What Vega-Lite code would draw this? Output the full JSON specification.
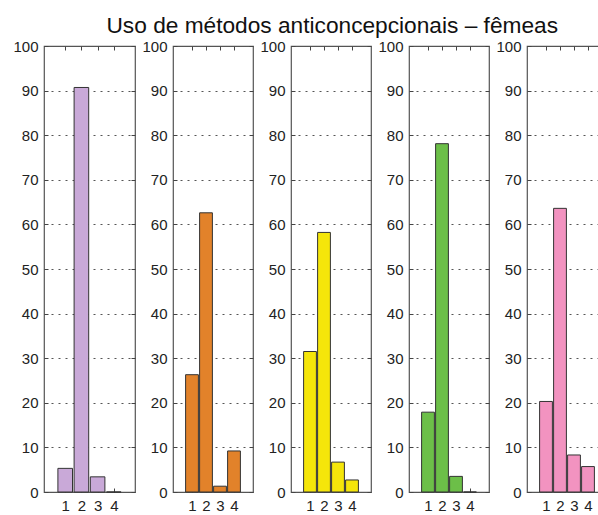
{
  "$schema": "https://vega.github.io/schema/vega-lite/v6.json",
  "padding": {"left": 12, "top": 14, "right": 0, "bottom": 0},
  "title": {
    "text": "Uso de métodos anticoncepcionais – fêmeas",
    "font": "Liberation Sans",
    "fontSize": 22.7,
    "fontWeight": "normal",
    "color": "#111111",
    "anchor": "middle",
    "offset": 1,
    "dx": 22
  },
  "datasets": {
    "uso": [
      {"painel": 1, "metodo": 1, "percentagem": 5.3},
      {"painel": 1, "metodo": 2, "percentagem": 90.7},
      {"painel": 1, "metodo": 3, "percentagem": 3.4},
      {"painel": 1, "metodo": 4, "percentagem": 0},
      {"painel": 2, "metodo": 1, "percentagem": 26.3},
      {"painel": 2, "metodo": 2, "percentagem": 62.6},
      {"painel": 2, "metodo": 3, "percentagem": 1.3},
      {"painel": 2, "metodo": 4, "percentagem": 9.2},
      {"painel": 3, "metodo": 1, "percentagem": 31.5},
      {"painel": 3, "metodo": 2, "percentagem": 58.2},
      {"painel": 3, "metodo": 3, "percentagem": 6.7},
      {"painel": 3, "metodo": 4, "percentagem": 2.7},
      {"painel": 4, "metodo": 1, "percentagem": 17.9},
      {"painel": 4, "metodo": 2, "percentagem": 78.1},
      {"painel": 4, "metodo": 3, "percentagem": 3.5},
      {"painel": 4, "metodo": 4, "percentagem": 0},
      {"painel": 5, "metodo": 1, "percentagem": 20.3},
      {"painel": 5, "metodo": 2, "percentagem": 63.6},
      {"painel": 5, "metodo": 3, "percentagem": 8.3},
      {"painel": 5, "metodo": 4, "percentagem": 5.7}
    ]
  },
  "bounds": "flush",
  "spacing": 38,
  "hconcat": [
    {
      "width": 91, "height": 446,
      "data": {"name": "uso"},
      "transform": [{"filter": "datum.painel == 1"}],
      "layer": [
        {
          "mark": {"type": "bar", "orient": "vertical", "size": 14.6, "color": "#c9a9d8", "stroke": "#333333", "strokeWidth": 1},
          "encoding": {
            "x": {"field": "metodo", "type": "quantitative", "title": null, "scale": {"domain": [0, 5], "nice": false, "zero": false}, "axis": {"orient": "bottom", "values": [1, 2, 3, 4], "grid": false}},
            "y": {"field": "percentagem", "type": "quantitative", "title": null, "stack": null, "scale": {"domain": [0, 100], "nice": false}, "axis": {"orient": "left", "values": [0, 10, 20, 30, 40, 50, 60, 70, 80, 90, 100], "grid": true}}
          }
        },
        {
          "mark": {"type": "bar", "orient": "vertical", "size": 14.6, "opacity": 0},
          "encoding": {
            "x": {"field": "metodo", "type": "quantitative", "title": null, "axis": {"orient": "top", "values": [1, 2, 3, 4], "labels": false, "grid": false}},
            "y": {"field": "percentagem", "type": "quantitative", "title": null, "stack": null, "axis": {"orient": "right", "values": [0, 10, 20, 30, 40, 50, 60, 70, 80, 90, 100], "labels": false, "grid": false}}
          }
        }
      ]
    },
    {
      "width": 80, "height": 446,
      "data": {"name": "uso"},
      "transform": [{"filter": "datum.painel == 2"}],
      "layer": [
        {
          "mark": {"type": "bar", "orient": "vertical", "size": 12.8, "color": "#e2822a", "stroke": "#333333", "strokeWidth": 1},
          "encoding": {
            "x": {"field": "metodo", "type": "quantitative", "title": null, "scale": {"domain": [0, 5], "nice": false, "zero": false}, "axis": {"orient": "bottom", "values": [1, 2, 3, 4], "grid": false}},
            "y": {"field": "percentagem", "type": "quantitative", "title": null, "stack": null, "scale": {"domain": [0, 100], "nice": false}, "axis": {"orient": "left", "values": [0, 10, 20, 30, 40, 50, 60, 70, 80, 90, 100], "grid": true}}
          }
        },
        {
          "mark": {"type": "bar", "orient": "vertical", "size": 12.8, "opacity": 0},
          "encoding": {
            "x": {"field": "metodo", "type": "quantitative", "title": null, "axis": {"orient": "top", "values": [1, 2, 3, 4], "labels": false, "grid": false}},
            "y": {"field": "percentagem", "type": "quantitative", "title": null, "stack": null, "axis": {"orient": "right", "values": [0, 10, 20, 30, 40, 50, 60, 70, 80, 90, 100], "labels": false, "grid": false}}
          }
        }
      ]
    },
    {
      "width": 80, "height": 446,
      "data": {"name": "uso"},
      "transform": [{"filter": "datum.painel == 3"}],
      "layer": [
        {
          "mark": {"type": "bar", "orient": "vertical", "size": 12.8, "color": "#f5e60a", "stroke": "#333333", "strokeWidth": 1},
          "encoding": {
            "x": {"field": "metodo", "type": "quantitative", "title": null, "scale": {"domain": [0, 5], "nice": false, "zero": false}, "axis": {"orient": "bottom", "values": [1, 2, 3, 4], "grid": false}},
            "y": {"field": "percentagem", "type": "quantitative", "title": null, "stack": null, "scale": {"domain": [0, 100], "nice": false}, "axis": {"orient": "left", "values": [0, 10, 20, 30, 40, 50, 60, 70, 80, 90, 100], "grid": true}}
          }
        },
        {
          "mark": {"type": "bar", "orient": "vertical", "size": 12.8, "opacity": 0},
          "encoding": {
            "x": {"field": "metodo", "type": "quantitative", "title": null, "axis": {"orient": "top", "values": [1, 2, 3, 4], "labels": false, "grid": false}},
            "y": {"field": "percentagem", "type": "quantitative", "title": null, "stack": null, "axis": {"orient": "right", "values": [0, 10, 20, 30, 40, 50, 60, 70, 80, 90, 100], "labels": false, "grid": false}}
          }
        }
      ]
    },
    {
      "width": 80, "height": 446,
      "data": {"name": "uso"},
      "transform": [{"filter": "datum.painel == 4"}],
      "layer": [
        {
          "mark": {"type": "bar", "orient": "vertical", "size": 12.8, "color": "#6cbf48", "stroke": "#333333", "strokeWidth": 1},
          "encoding": {
            "x": {"field": "metodo", "type": "quantitative", "title": null, "scale": {"domain": [0, 5], "nice": false, "zero": false}, "axis": {"orient": "bottom", "values": [1, 2, 3, 4], "grid": false}},
            "y": {"field": "percentagem", "type": "quantitative", "title": null, "stack": null, "scale": {"domain": [0, 100], "nice": false}, "axis": {"orient": "left", "values": [0, 10, 20, 30, 40, 50, 60, 70, 80, 90, 100], "grid": true}}
          }
        },
        {
          "mark": {"type": "bar", "orient": "vertical", "size": 12.8, "opacity": 0},
          "encoding": {
            "x": {"field": "metodo", "type": "quantitative", "title": null, "axis": {"orient": "top", "values": [1, 2, 3, 4], "labels": false, "grid": false}},
            "y": {"field": "percentagem", "type": "quantitative", "title": null, "stack": null, "axis": {"orient": "right", "values": [0, 10, 20, 30, 40, 50, 60, 70, 80, 90, 100], "labels": false, "grid": false}}
          }
        }
      ]
    },
    {
      "width": 80, "height": 446,
      "data": {"name": "uso"},
      "transform": [{"filter": "datum.painel == 5"}],
      "layer": [
        {
          "mark": {"type": "bar", "orient": "vertical", "size": 12.8, "color": "#f293c0", "stroke": "#333333", "strokeWidth": 1},
          "encoding": {
            "x": {"field": "metodo", "type": "quantitative", "title": null, "scale": {"domain": [0, 5], "nice": false, "zero": false}, "axis": {"orient": "bottom", "values": [1, 2, 3, 4], "grid": false}},
            "y": {"field": "percentagem", "type": "quantitative", "title": null, "stack": null, "scale": {"domain": [0, 100], "nice": false}, "axis": {"orient": "left", "values": [0, 10, 20, 30, 40, 50, 60, 70, 80, 90, 100], "grid": true}}
          }
        },
        {
          "mark": {"type": "bar", "orient": "vertical", "size": 12.8, "opacity": 0},
          "encoding": {
            "x": {"field": "metodo", "type": "quantitative", "title": null, "axis": {"orient": "top", "values": [1, 2, 3, 4], "labels": false, "grid": false}},
            "y": {"field": "percentagem", "type": "quantitative", "title": null, "stack": null, "axis": {"orient": "right", "values": [0, 10, 20, 30, 40, 50, 60, 70, 80, 90, 100], "labels": false, "grid": false}}
          }
        }
      ]
    }
  ],
  "config": {
    "view": {"stroke": "#555555", "strokeWidth": 1.2},
    "axis": {
      "labelFont": "Liberation Sans",
      "labelFontSize": 15,
      "labelColor": "#222222",
      "domain": false,
      "ticks": true,
      "tickColor": "#444444",
      "tickSize": -4,
      "labelPadding": 10,
      "gridColor": "#555555",
      "gridDash": [2, 5],
      "gridWidth": 1,
      "labelFlush": false
    }
  }
}
